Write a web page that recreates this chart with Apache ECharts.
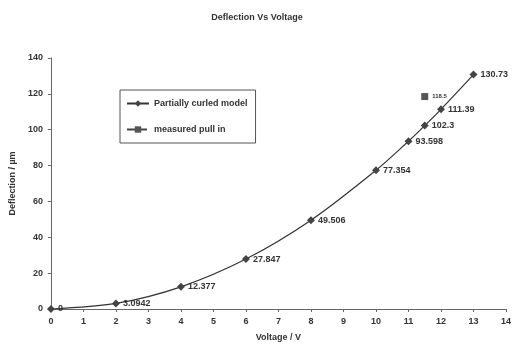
<!DOCTYPE html>
<html><head><meta charset="utf-8">
<script src="https://cdn.jsdelivr.net/npm/echarts@6/dist/echarts.min.js"></script>
<style>html,body{margin:0;padding:0;background:#fff}#c{width:514px;height:347px}</style>
</head><body><div id="c"></div>
<script>
const voltage = [0, 2, 4, 6, 8, 10, 11, 11.5, 12, 13];
const deflection = [0, 3.0942, 12.377, 27.847, 49.506, 77.354, 93.598, 102.3, 111.39, 130.73];
const pullInVoltage = [11.5];
const pullInDeflection = [118.5];
const seriesNames = ['Partially curled model', 'measured pull in'];

const font = 'Liberation Sans, Arial, sans-serif';
const chart = echarts.init(document.getElementById('c'));
chart.setOption({
  animation: false,
  backgroundColor: '#fff',
  title: {
    text: 'Deflection Vs Voltage', left: 'center', top: 8,
    textStyle: { fontFamily: font, fontSize: 9, fontWeight: 'bold', color: '#333' }
  },
  legend: {
    left: 120, top: 90,
    orient: 'vertical', itemGap: 17, padding: [9, 8, 9, 6],
    borderColor: '#555', borderWidth: 1,
    itemWidth: 22, itemHeight: 8,
    textStyle: { fontFamily: font, fontSize: 9, fontWeight: 'bold', color: '#333' },
    data: seriesNames
  },
  grid: { left: 48, right: 2, top: 58, bottom: 36 },
  xAxis: {
    type: 'value', min: 0, max: 14, interval: 1,
    name: 'Voltage / V', nameLocation: 'middle', nameGap: 24,
    nameTextStyle: { fontFamily: font, fontSize: 9, fontWeight: 'bold', color: '#333' },
    axisLine: { lineStyle: { color: '#666' } },
    axisTick: { show: true, length: 3, lineStyle: { color: '#666' } },
    axisLabel: { fontFamily: font, fontSize: 9, fontWeight: 'bold', color: '#333', margin: 8 },
    splitLine: { show: false }
  },
  yAxis: {
    type: 'value', min: 0, max: 140, interval: 20,
    name: 'Deflection / µm', nameLocation: 'middle', nameGap: 30,
    nameTextStyle: { fontFamily: font, fontSize: 9, fontWeight: 'bold', color: '#333' },
    axisLine: { show: true, lineStyle: { color: '#666' } },
    axisTick: { show: true, length: 3, lineStyle: { color: '#666' } },
    axisLabel: { fontFamily: font, fontSize: 9, fontWeight: 'bold', color: '#333', margin: 8 },
    splitLine: { show: false }
  },
  series: [
    {
      name: seriesNames[0], type: 'line', smooth: 0.3,
      data: voltage.map((v, i) => [v, deflection[i]]),
      symbol: 'diamond', symbolSize: 8,
      lineStyle: { color: '#333', width: 1.2 },
      itemStyle: { color: '#444' },
      label: {
        show: true, position: 'right', distance: 3,
        formatter: p => String(p.value[1]),
        fontFamily: font, fontSize: 9, fontWeight: 'bold', color: '#333'
      }
    },
    {
      name: seriesNames[1], type: 'line',
      data: pullInVoltage.map((v, i) => [v, pullInDeflection[i]]),
      symbol: 'rect', symbolSize: 7,
      lineStyle: { color: '#444', width: 1, type: 'dashed' },
      itemStyle: { color: '#555' },
      label: {
        show: true, position: 'right', distance: 4,
        formatter: p => String(p.value[1]),
        fontFamily: font, fontSize: 6, fontWeight: 'bold', color: '#333'
      }
    }
  ]
});
</script>
</body></html>
